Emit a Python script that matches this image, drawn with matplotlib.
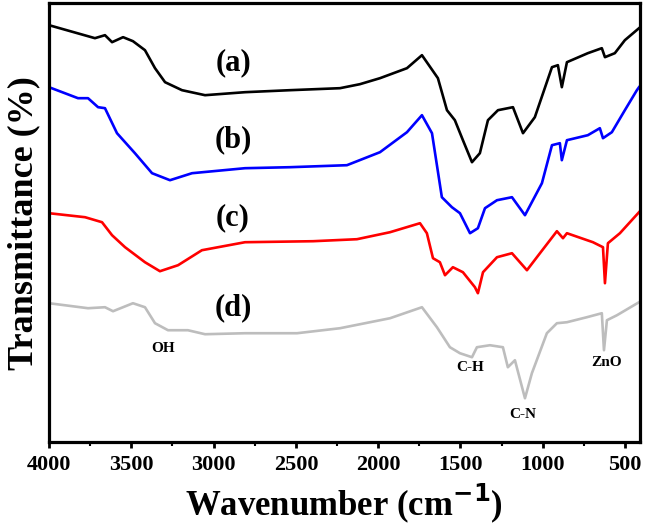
import numpy as np
import matplotlib.pyplot as plt
from matplotlib.ticker import MultipleLocator

plt.rcParams["font.family"] = ["Liberation Serif", "DejaVu Serif"]
plt.rcParams["font.weight"] = "bold"

# FTIR spectra (wavenumber in cm-1, transmittance in arbitrary units)
wn_a = [4000, 3721, 3660, 3617, 3550, 3490, 3417, 3356, 3295, 3192, 3052, 2809, 2536, 2232,
        2111, 1989, 1825, 1734, 1637, 1582, 1534, 1485, 1430, 1382, 1333, 1272, 1181, 1120, 1048,
        944, 908, 884, 853, 726, 641, 622, 562, 501, 415]
tr_a = [417, 404, 407, 400, 405, 401, 392, 374, 360, 352, 347, 350, 352, 354,
        358, 364, 374, 387, 364, 332, 322, 302, 280, 289, 322, 332, 335, 309, 325,
        375, 377, 355, 380, 389, 394, 385, 389, 402, 414]

wn_b = [4000, 3824, 3763, 3702, 3660, 3587, 3478, 3374, 3265, 3131, 2809, 2536, 2190, 1989,
        1825, 1734, 1673, 1613, 1552, 1503, 1442, 1394, 1351, 1278, 1187, 1108, 1005, 944,
        896, 884, 853, 726, 653, 634, 580, 501, 428, 415]
tr_b = [355, 344, 344, 335, 334, 309, 289, 269, 262, 269, 274, 275, 277, 290,
        310, 327, 309, 245, 235, 229, 209, 214, 234, 242, 245, 227, 259, 297,
        299, 282, 302, 307, 314, 304, 310, 332, 352, 355]

wn_c = [4000, 3781, 3678, 3617, 3538, 3417, 3326, 3216, 3071, 2809, 2396, 2129, 1928, 1746,
        1704, 1667, 1625, 1594, 1546, 1485, 1412, 1394, 1363, 1278, 1187, 1096, 1017, 914,
        877, 853, 695, 634, 622, 604, 531, 415]
tr_c = [229, 225, 220, 207, 195, 180, 171, 177, 192, 200, 201, 203, 210, 219,
        209, 184, 180, 167, 175, 170, 155, 149, 170, 185, 189, 172, 189, 211,
        204, 209, 200, 195, 159, 199, 209, 230]

wn_d = [4000, 3763, 3660, 3611, 3490, 3417, 3356, 3277, 3156, 3052, 2809, 2493, 2232, 1928,
        1734, 1643, 1564, 1503, 1430, 1400, 1321, 1242, 1212, 1169, 1108, 1066, 975, 914,
        853, 732, 641, 628, 610, 549, 415]
tr_d = [139, 134, 135, 131, 139, 135, 119, 112, 112, 108, 109, 109, 114, 124,
        135, 115, 95, 89, 85, 95, 97, 95, 75, 82, 44, 69, 109, 119,
        120, 125, 129, 92, 122, 127, 140]

series = [(wn_a, tr_a, "black", "(a)", 379),
          (wn_b, tr_b, "#0000ff", "(b)", 302),
          (wn_c, tr_c, "#ff0000", "(c)", 224),
          (wn_d, tr_d, "#bdbdbd", "(d)", 135)]

bands = [("OH", 3307, 94), ("C-H", 1442, 75), ("C-N", 1120, 28), ("ZnO", 610, 80)]

fig = plt.figure(figsize=(6.45, 5.29), dpi=100)
ax = fig.add_axes([0.076, 0.164, 0.916, 0.830])

for wn, tr, col, lab, ly in series:
    ax.plot(wn, tr, color=col, lw=1.9)
    ax.text(2882, ly, lab, fontsize=22, fontweight="bold", ha="center", va="center")

for name, x, y in bands:
    ax.text(x, y, name, fontsize=11, fontweight="bold", ha="center", va="center")

ax.set_xlim(4000, 410)
ax.set_ylim(0, 439)
ax.xaxis.set_major_locator(MultipleLocator(500))
ax.xaxis.set_minor_locator(MultipleLocator(250))
ax.set_yticks([])
ax.tick_params(axis="x", which="major", direction="out", length=4, width=2,
               labelsize=16, pad=5)
ax.tick_params(axis="x", which="minor", direction="out", length=3, width=1.5)
for lbl in ax.get_xticklabels():
    lbl.set_fontweight("bold")
for sp in ax.spines.values():
    sp.set_linewidth(2.3)

ax.set_xlabel("Wavenumber (cm$^{\\mathbf{-1}}$)", fontsize=25, fontweight="bold", labelpad=5)
ax.set_ylabel("Transmittance (%)", fontsize=26, fontweight="bold", labelpad=6)

plt.savefig("out.png", dpi=100)
